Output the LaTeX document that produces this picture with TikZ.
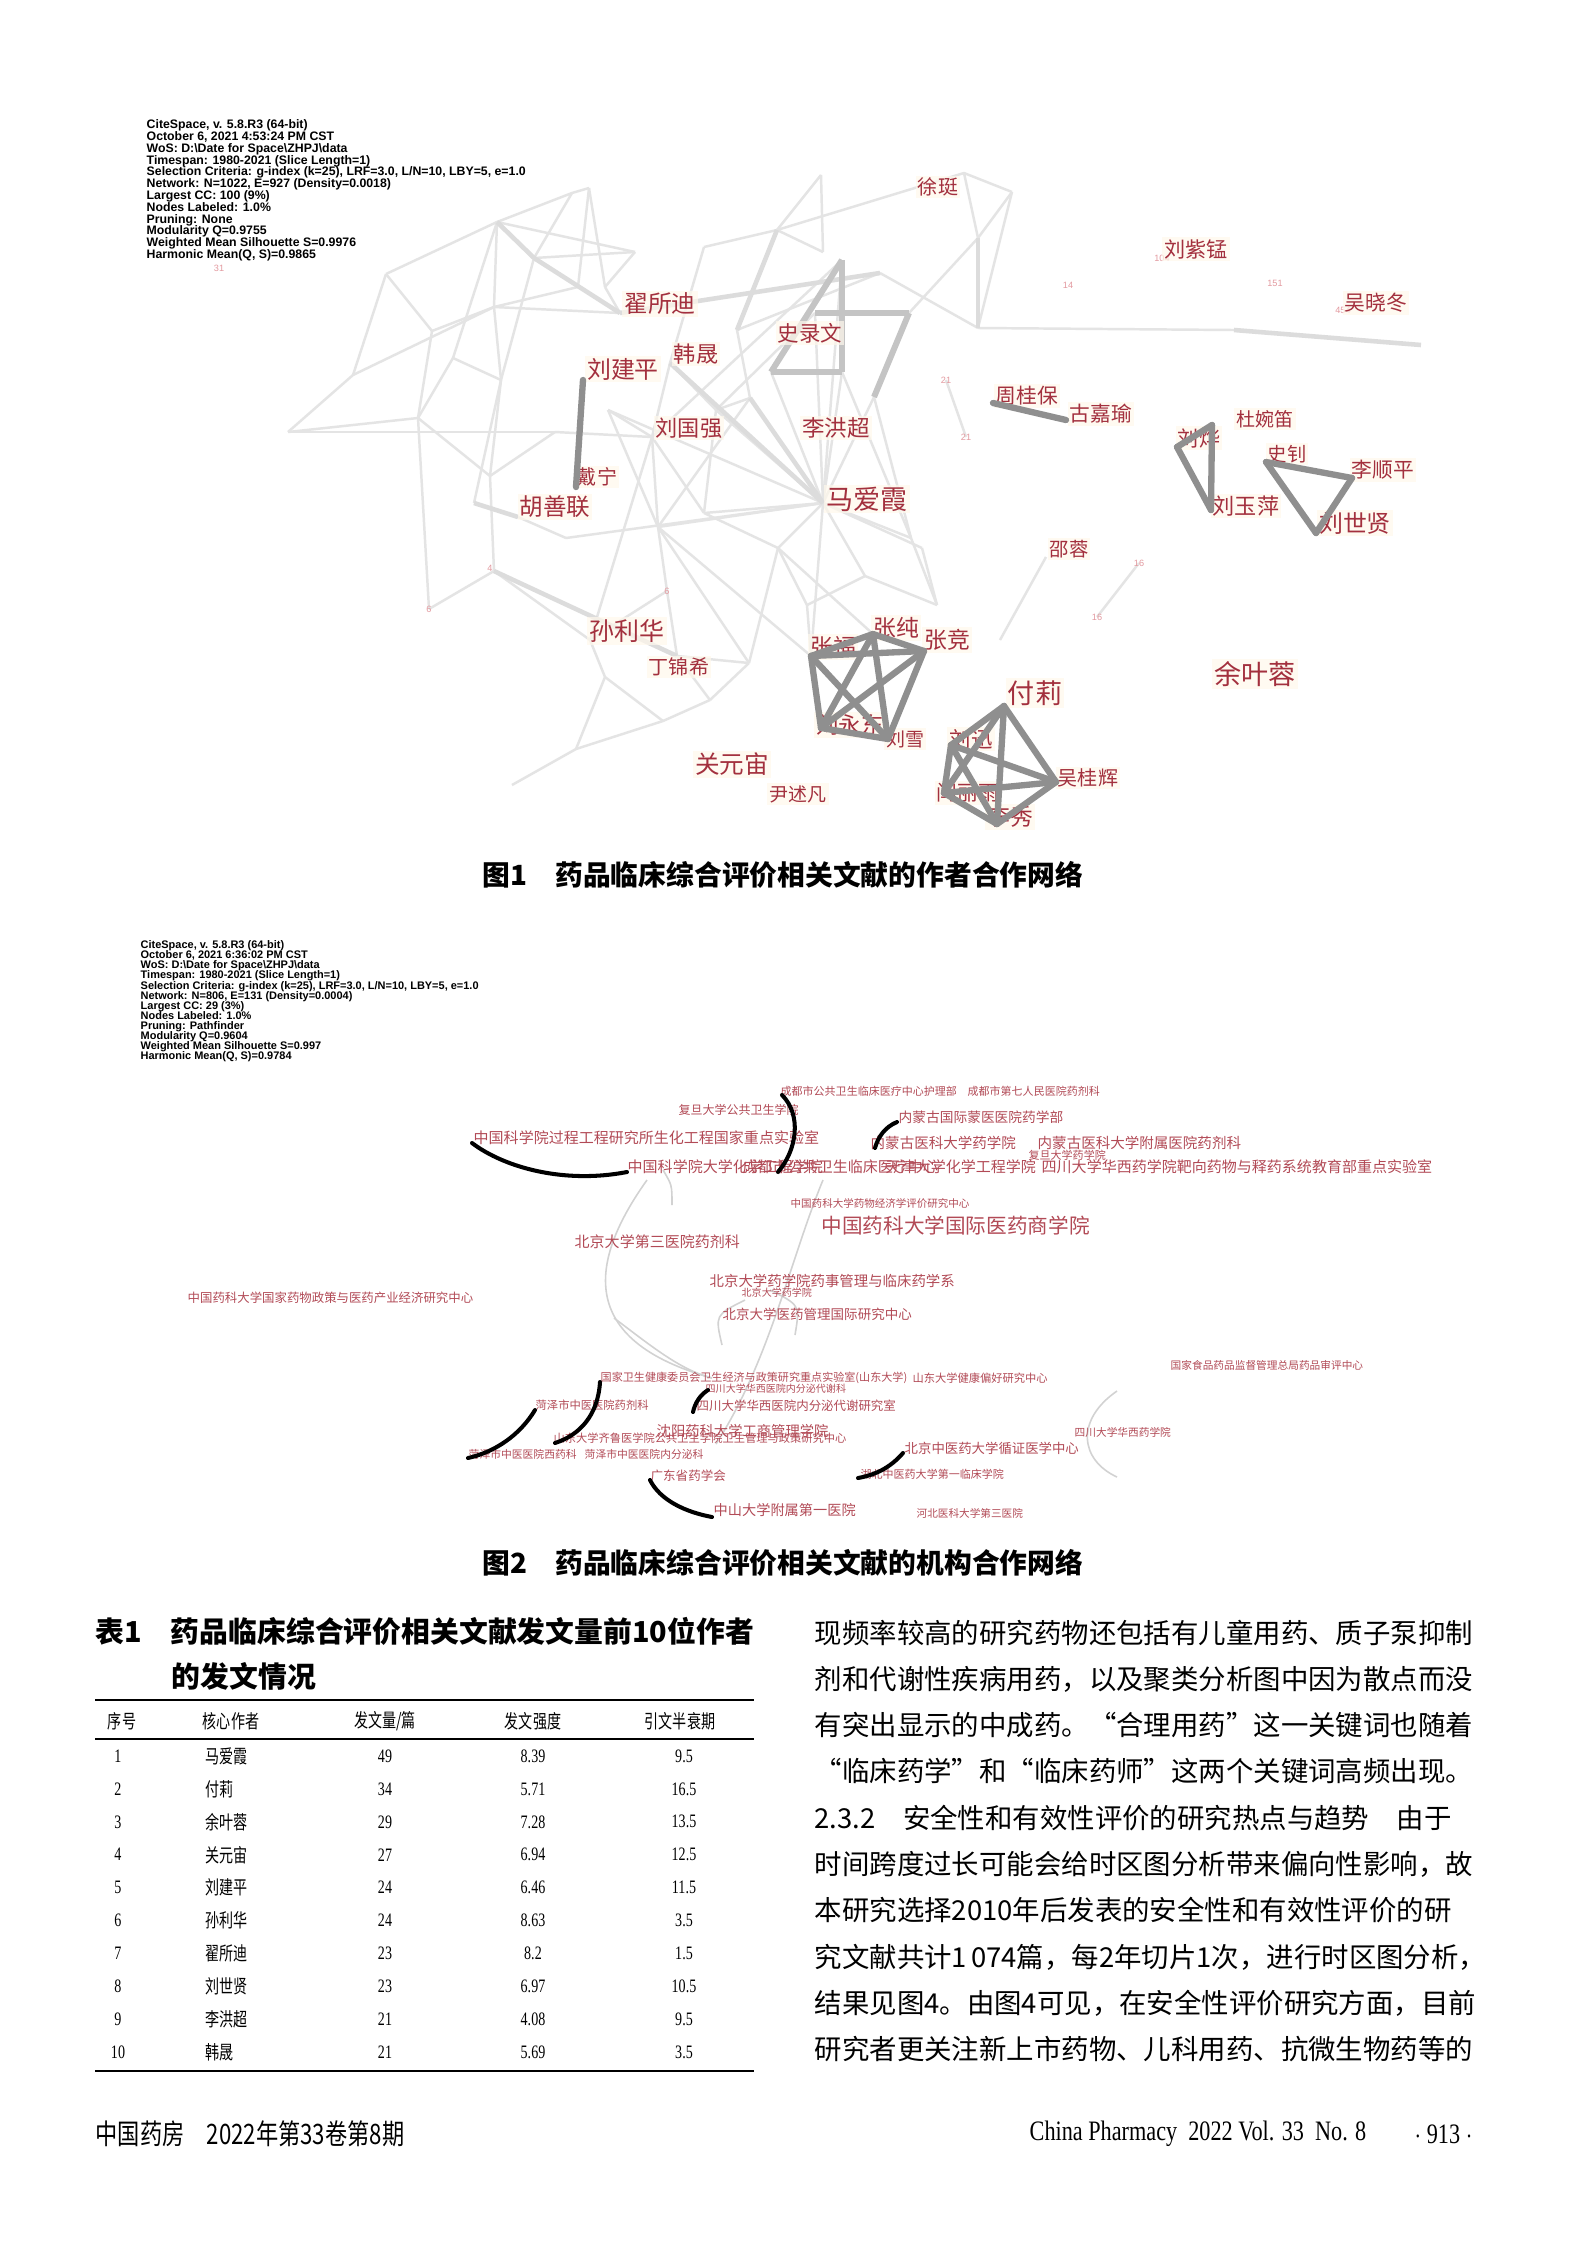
\documentclass[tikz,border=0pt]{standalone}
\usepackage{fontspec}
\usepackage{graphicx}
\setmainfont{Liberation Serif}
\newfontfamily\cjk{Noto Sans CJK SC}
\newfontfamily\csfont{Liberation Sans}
\usetikzlibrary{positioning}
\definecolor{authorred}{HTML}{A3303E}
\definecolor{instred}{HTML}{B24A56}
\definecolor{countpink}{HTML}{E39AA0}
\definecolor{labelbg}{HTML}{FFF8EC}
\definecolor{linkfaint}{HTML}{E4E4E4}
\definecolor{linkwide}{HTML}{DCDCDC}
\definecolor{linkgrey}{HTML}{C4C4C4}
\definecolor{linkdark}{HTML}{8F8F8F}
\definecolor{arcgrey}{HTML}{D2D2D2}
% stretch CJK lines to the column width
\XeTeXinterchartokenstate=1
\XeTeXinterchartoks 1 1 = {\hskip0pt plus 1pt}
\XeTeXinterchartoks 1 2 = {\hskip0pt plus 1pt}
\XeTeXinterchartoks 1 3 = {\hskip0pt plus 1pt}
\XeTeXinterchartoks 3 1 = {\hskip0pt plus 1pt}
\XeTeXinterchartoks 2 1 = {\hskip0pt plus 1pt}
\XeTeXinterchartoks 3 2 = {\hskip0pt plus 1pt}
\XeTeXinterchartoks 0 1 = {\hskip0pt plus 1pt}
\XeTeXinterchartoks 1 0 = {\hskip0pt plus 1pt}
\XeTeXinterchartoks 3 0 = {\hskip0pt plus 1pt}
\newcommand{\nrw}[1]{\scalebox{0.74}[1]{#1}}
\newcommand{\nrwf}[1]{\scalebox{0.79}[1]{#1}}
\newcommand{\tightlines}{\lineskiplimit=-5pt\relax}
\tikzset{
  faintlink/.style={draw=linkfaint, line width=0.7pt},
  widelink/.style={draw=linkwide, line width=1.3pt},
  greylink/.style={draw=linkgrey, line width=1.7pt},
  coauthor/.style={draw=linkdark, line width=1.8pt, line cap=round},
  authorlbl/.style={text=authorred, fill=labelbg, fill opacity=0.7, text opacity=1, inner sep=0.6pt},
  countlbl/.style={text=countpink, inner sep=0pt, font=\csfont\fontsize{2.6pt}{2.6pt}\selectfont},
  instlbl/.style={text=instred, inner sep=0pt, anchor=west},
  arclink/.style={draw=black, line width=1.15pt, line cap=round},
  softarc/.style={draw=arcgrey, line width=0.45pt},
  csinfo/.style={align=left, inner sep=0pt, anchor=north west},
  captiontxt/.style={inner sep=0pt, font=\cjk\bfseries\fontsize{7.9pt}{7.9pt}\selectfont},
  tabtitle/.style={inner sep=0pt, anchor=west, font=\cjk\bfseries\fontsize{8.2pt}{8.2pt}\selectfont},
  tabcell/.style={inner sep=0pt, font=\fontsize{5.4pt}{5.4pt}\selectfont},
  bodyline/.style={inner sep=0pt, anchor=west, font=\cjk\fontsize{7.8pt}{7.8pt}\selectfont},
  footer/.style={inner sep=0pt, font=\fontsize{8pt}{8pt}\selectfont}
}

\begin{document}
\begin{tikzpicture}[x=0.01cm, y=-0.01cm]
    % Page
    \fill[white] (0,0) rectangle (1575,2260);
    \useasboundingbox (0,0) rectangle (1575,2260);

    % ---------------- Figure 1: author network ----------------
    \node[csinfo, font=\csfont\bfseries\fontsize{3.5pt}{3.36pt}\selectfont\tightlines] (info1) at (146,119) {%
        CiteSpace, v. 5.8.R3 (64-bit)\\
        October 6, 2021 4:53:24 PM CST\\
        WoS: D:\textbackslash Date for Space\textbackslash ZHPJ\textbackslash data\\
        Timespan: 1980-2021 (Slice Length=1)\\
        Selection Criteria: g-index (k=25), LRF=3.0, L/N=10, LBY=5, e=1.0\\
        Network: N=1022, E=927 (Density=0.0018)\\
        Largest CC: 100 (9\%)\\
        Nodes Labeled: 1.0\%\\
        Pruning: None\\
        Modularity Q=0.9755\\
        Weighted Mean Silhouette S=0.9976\\
        Harmonic Mean(Q, S)=0.9865};

    % network points
    \foreach \n/\px/\py in {z1/572/193, z2/589/188, z3/497/222, z4/534/258, z5/635/252,
        z6/605/287, z7/578/287, z8/494/307, z9/620/313, z10/737/330, z11/880/273,
        z12/842/260, z13/815/313, z14/909/313, z15/771/372, z16/842/372, z17/874/397,
        z18/670/363, z19/652/437, z20/823/503, z21/750/398, z22/777/230, z23/821/175,
        z24/823/252, z25/964/173, z26/1012/192, z27/978/238, z28/978/328, z29/704/247,
        z30/501/380, z31/453/358, z32/518/517, z33/474/503, z34/658/527, z35/566/538,
        z36/911/538, z37/704/513, z38/716/410, z39/608/410, z40/288/432, z41/353/375,
        z42/386/274, z43/432/331, z44/418/418, z45/490/476, z46/555/432, z47/494/571,
        z48/677/656, z49/605/677, z50/663/721, z51/576/749, z52/512/785, z53/778/548,
        z54/807/605, z55/749/663, z56/865/576, z57/922/548, z58/937/605, z59/429/609,
        z60/667/591, z61/590/640, z62/710/700, z63/1046/557, z64/1000/640, z65/1139/563,
        z66/1097/617, z67/946/380, z68/966/437, z70/1234/330, z71/1421/345}
        \coordinate (\n) at (\px,\py);

    % co-author points
    \foreach \n/\px/\py in {pLJP/583/380, pDN/576/487, pZGB/993/403, pGJY/1066/420,
        pLY/1177/447, pDWD/1212/425, pLYP/1211/510, pSZ/1266/462, pLSP/1352/478,
        pLSX/1316/533, pZF/811/656, pZC/873/634, pZJ/924/651, pLYD/821/728, pLX/888/739,
        pFL/1004/706, pLXn/951/745, pWGH/1056/782, pYLY/944/793, pLXu/997/824}
        \coordinate (\n) at (\px,\py);

    % faint links
    \foreach \u/\v in {z1/z3, z2/z7, z1/z4, z3/z8, z3/z5, z5/z6, z6/z9, z7/z8, z2/z6, z8/z9,
        z4/z5, z1/z2, z8/z30, z30/z31, z31/z3, z30/z4, z42/z43, z43/z44, z44/z40, z40/z41,
        z41/z42, z42/z3, z41/z8, z44/z45, z45/z30, z43/z8, z40/z46, z46/z19, z46/z45,
        z30/z33, z31/z44, z10/z11, z22/z23, z22/z24, z23/z24, z29/z22, z29/z18, z12/z20,
        z13/z20, z17/z20, z16/z20, z18/z19, z18/z38, z38/z20, z19/z37, z37/z20, z39/z20,
        z39/z19, z19/z34, z34/z20, z20/z36, z36/z17, z20/z35, z35/z32, z20/z57, z20/z56,
        z20/z53, z53/z54, z54/z56, z55/z53, z55/z48, z34/z55, z37/z53, z14/z27, z26/z28,
        z25/z26, z26/z27, z25/z27, z25/z22, z28/z70, z45/z47, z47/z61, z61/z49, z49/z50,
        z50/z51, z51/z52, z61/z60, z60/z48, z48/z62, z62/z50, z61/z19, z49/z51, z62/z55,
        z60/z34, z63/z64, z65/z66, z67/z68, z57/z58, z58/z36, z56/z58, z11/z28, z59/z47,
        z59/z44, z10/z21, z21/z38, z20/pZF, z34/pZF, z54/pZF, z53/pZC, z39/z34, z38/z37,
        z15/z20, z21/z34, z16/z36, z12/z19, z13/z38}
        \draw[faintlink] (\u) -- (\v);

    % wider faint links
    \foreach \u/\v in {z3/z4, z4/z9, z9/z11, z18/z20, z21/z20, z47/z48, z33/z32, z70/z71,
        z27/z28, z10/z22}
        \draw[widelink] (\u) -- (\v);

    % grey links
    \foreach \u/\v in {z12/z15, z13/z14, z15/z16, z14/z17, z12/z16}
        \draw[greylink] (\u) -- (\v);

    % small cluster counts
    \foreach \cv/\px/\py [count=\i] in {31/219/268, 104/1162/258, 14/1068/285, 151/1275/283,
        454/1343/310, 21/946/380, 21/966/437, 16/1139/563, 16/1097/617, 6/429/609,
        6/667/591, 4/490/568}
        \node[countlbl] (cnt\i) at (\px,\py) {\cv};

    % author labels
    \foreach \nm/\px/\py/\sz [count=\i] in {徐珽/938/187/5.7, 刘紫锰/1196/249/6.0,
        吴晓冬/1376/303/5.9, 翟所迪/660/304/6.8, 史录文/810/333/6.1, 韩晟/696/354/6.3,
        刘建平/623/369/6.8, 周桂保/1027/396/5.9, 古嘉瑜/1101/414/5.9, 杜婉笛/1265/419/5.4,
        刘国强/689/428/6.3, 李洪超/836/428/6.4, 刘烨/1199/438/6.0, 史钊/1287/454/5.5,
        李顺平/1383/470/5.9, 戴宁/597/477/5.7, 马爱霞/867/499/7.7, 胡善联/555/507/6.7,
        刘玉萍/1246/506/6.3, 刘世贤/1355/523/6.8, 邵蓉/1069/549/5.5, 孙利华/627/631/7.1,
        张福/833/647/6.5, 张纯/896/628/6.5, 张竞/947/640/6.5, 丁锦希/679/667/5.7,
        余叶蓉/1255/674/7.7, 付莉/1035/693/7.7, 刘永东/850/725/6.4, 刘雪/905/739/5.4,
        刘迅/971/739/6.1, 关元宙/732/764/7.0, 吴桂辉/1088/778/5.7, 尹述凡/798/794/5.4,
        闫丽雨/968/793/5.9, 李秀/1010/817/6.5}
        \node[authorlbl, font=\cjk\fontsize{\sz pt}{\sz pt}\selectfont] (au\i) at (\px,\py) {\nm};

    % strong co-author links
    \foreach \u/\v in {pLJP/pDN, pZGB/pGJY, pLY/pLYP, pDWD/pLYP, pLY/pDWD, pSZ/pLSP,
        pLSP/pLSX, pLSX/pSZ, pZF/pZC, pZC/pZJ, pZF/pZJ, pZF/pLYD, pZF/pLX, pZC/pLYD,
        pZJ/pLYD, pZJ/pLX, pLYD/pLX, pZC/pLX, pFL/pLXn, pFL/pWGH, pFL/pYLY, pFL/pLXu,
        pLXn/pYLY, pLXn/pLXu, pLXn/pWGH, pWGH/pLXu, pYLY/pLXu, pWGH/pYLY}
        \draw[coauthor] (\u) -- (\v);

    \node[captiontxt] (cap1) at (783,875) {图1\quad 药品临床综合评价相关文献的作者合作网络};

    % ---------------- Figure 2: institution network ----------------
    \node[csinfo, font=\csfont\bfseries\fontsize{3.12pt}{2.87pt}\selectfont\tightlines] (info2) at (140,940) {%
        CiteSpace, v. 5.8.R3 (64-bit)\\
        October 6, 2021 6:36:02 PM CST\\
        WoS: D:\textbackslash Date for Space\textbackslash ZHPJ\textbackslash data\\
        Timespan: 1980-2021 (Slice Length=1)\\
        Selection Criteria: g-index (k=25), LRF=3.0, L/N=10, LBY=5, e=1.0\\
        Network: N=806, E=131 (Density=0.0004)\\
        Largest CC: 29 (3\%)\\
        Nodes Labeled: 1.0\%\\
        Pruning: Pathfinder\\
        Modularity Q=0.9604\\
        Weighted Mean Silhouette S=0.997\\
        Harmonic Mean(Q, S)=0.9784};

    % light arcs
    \coordinate (g1s) at (647,1180); \coordinate (g1e) at (712,1378);
    \coordinate (g2s) at (823,1180); \coordinate (g2e) at (716,1444);
    \coordinate (g3s) at (614,1318); \coordinate (g4s) at (663,1170);
    \coordinate (g4e) at (672,1205); \coordinate (g5s) at (1117,1391);
    \coordinate (g5e) at (1117,1477); \coordinate (g6s) at (745,1300);
    \coordinate (g6e) at (722,1345); \coordinate (g7s) at (770,1290);
    \coordinate (g7e) at (795,1335);
    \draw[softarc] (g1s) .. controls (590,1260) and (575,1340) .. (g1e);
    \draw[softarc] (g2s) .. controls (790,1260) and (770,1360) .. (g2e);
    \draw[softarc] (g3s) .. controls (650,1345) and (680,1370) .. (g1e);
    \draw[softarc] (g4s) .. controls (672,1185) .. (g4e);
    \draw[softarc] (g5s) .. controls (1075,1420) and (1080,1460) .. (g5e);
    \draw[softarc] (g6s) .. controls (715,1315) .. (g6e);
    \draw[softarc] (g7s) .. controls (800,1305) .. (g7e);

    % institution labels
    \foreach \nm/\px/\py/\sz [count=\i] in {成都市公共卫生临床医疗中心护理部/780/1091/3.13,
        成都市第七人民医院药剂科/967/1091/3.13, 复旦大学公共卫生学院/678/1110/3.41,
        内蒙古国际蒙医医院药学部/898/1117/3.9,
        中国科学院过程工程研究所生化工程国家重点实验室/473/1138/4.27,
        内蒙古医科大学药学院/870/1143/4.13, 内蒙古医科大学附属医院药剂科/1037/1143/4.13,
        复旦大学药学院/1028/1155/3.13, 中国科学院大学化学工程学院/627/1167/4.27,
        成都市公共卫生临床医疗中心/742/1167/4.27, 天津大学化学工程学院/885/1167/4.27,
        四川大学华西药学院靶向药物与释药系统教育部重点实验室/1041/1167/4.27,
        中国药科大学药物经济学评价研究中心/790/1203/2.99,
        中国药科大学国际医药商学院/821/1226/5.86, 北京大学第三医院药剂科/574/1242/4.27,
        中国药科大学国家药物政策与医药产业经济研究中心/187/1298/3.53,
        北京大学药学院药事管理与临床药学系/709/1281/4.1, 北京大学药学院/741/1293/2.85,
        北京大学医药管理国际研究中心/722/1314/3.84,
        国家食品药品监督管理总局药品审评中心/1170/1365/3.04,
        国家卫生健康委员会卫生经济与政策研究重点实验室(山东大学)/600/1378/3.15,
        山东大学健康偏好研究中心/912/1378/3.2, 四川大学华西医院内分泌代谢科/705/1389/2.85,
        菏泽市中医医院药剂科/535/1405/3.21, 四川大学华西医院内分泌代谢研究室/696/1406/3.54,
        沈阳药科大学工商管理学院/656/1431/4.07,
        山东大学齐鲁医学院公共卫生学院卫生管理与政策研究中心/553/1438/3.2,
        四川大学华西药学院/1074/1432/3.04, 菏泽市中医医院西药科/468/1454/3.07,
        菏泽市中医医院内分泌科/584/1454/3.07, 北京中医药大学循证医学中心/904/1448/3.81,
        湖北中医药大学第一临床学院/860/1474/3.13, 广东省药学会/650/1476/3.56,
        中山大学附属第一医院/713/1510/4.04, 河北医科大学第三医院/916/1513/3.02}
        \node[instlbl, font=\cjk\fontsize{\sz pt}{\sz pt}\selectfont] (in\i) at (\px,\py) {\nm};

    % collaboration arcs
    \coordinate (a1s) at (472,1143); \coordinate (a1e) at (627,1172);
    \coordinate (a2s) at (782,1095); \coordinate (a2e) at (778,1172);
    \coordinate (a3s) at (897,1122); \coordinate (a3e) at (875,1148);
    \coordinate (a4s) at (535,1410); \coordinate (a4e) at (468,1458);
    \coordinate (a5s) at (600,1382); \coordinate (a5e) at (555,1443);
    \coordinate (a6s) at (708,1390); \coordinate (a6e) at (693,1412);
    \coordinate (a7s) at (650,1480); \coordinate (a7e) at (712,1517);
    \coordinate (a8s) at (903,1453); \coordinate (a8e) at (858,1478);
    \draw[arclink] (a1s) .. controls (505,1168) and (565,1184) .. (a1e);
    \draw[arclink] (a2s) .. controls (802,1115) and (797,1150) .. (a2e);
    \draw[arclink] (a3s) .. controls (885,1127) and (878,1137) .. (a3e);
    \draw[arclink] (a4s) .. controls (520,1435) and (495,1452) .. (a4e);
    \draw[arclink] (a5s) .. controls (598,1415) and (580,1435) .. (a5e);
    \draw[arclink] (a6s) .. controls (700,1395) and (695,1403) .. (a6e);
    \draw[arclink] (a7s) .. controls (660,1500) and (685,1512) .. (a7e);
    \draw[arclink] (a8s) .. controls (890,1468) and (875,1475) .. (a8e);

    \node[captiontxt] (cap2) at (783,1563) {图2\quad 药品临床综合评价相关文献的机构合作网络};

    % ---------------- Table 1 ----------------
    \node[tabtitle] (tabt1) at (95,1631) {表1\quad 药品临床综合评价相关文献发文量前10位作者};
    \node[tabtitle] (tabt2) at (171,1676) {的发文情况};
    \draw[line width=0.8pt] (95,1700) -- (754,1700);
    \draw[line width=0.45pt] (95,1739) -- (754,1739);
    \draw[line width=0.8pt] (95,2071) -- (754,2071);
    \node[tabcell] (th1) at (122,1721) {\nrw{\cjk 序号}};
    \node[tabcell] (th2) at (231,1721) {\nrw{\cjk 核心作者}};
    \node[tabcell] (th3) at (385,1721) {\nrw{\cjk 发文量/篇}};
    \node[tabcell] (th4) at (533,1721) {\nrw{\cjk 发文强度}};
    \node[tabcell] (th5) at (680,1721) {\nrw{\cjk 引文半衰期}};
    \foreach \au/\np/\st/\hl [count=\rw] in {马爱霞/49/8.39/9.5, 付莉/34/5.71/16.5,
        余叶蓉/29/7.28/13.5, 关元宙/27/6.94/12.5, 刘建平/24/6.46/11.5, 孙利华/24/8.63/3.5,
        翟所迪/23/8.2/1.5, 刘世贤/23/6.97/10.5, 李洪超/21/4.08/9.5, 韩晟/21/5.69/3.5}
    {
        \pgfmathsetmacro\ry{1756+32.9*(\rw-1)}
        \node[tabcell] (tno\rw) at (118,\ry) {\nrw{\rw}};
        \node[tabcell, anchor=west] (tau\rw) at (205,\ry) {\nrw{\cjk\au}};
        \node[tabcell] (tnp\rw) at (385,\ry) {\nrw{\np}};
        \node[tabcell] (tst\rw) at (533,\ry) {\nrw{\st}};
        \node[tabcell] (thl\rw) at (684,\ry) {\nrw{\hl}};
    }

    % ---------------- Right column text ----------------
    \node[bodyline] (txt1) at (814,1633) {\makebox[6.59cm][s]{现频率较高的研究药物还包括有儿童用药、质子泵抑制}};
    \node[bodyline] (txt2) at (814,1679) {\makebox[6.59cm][s]{剂和代谢性疾病用药，以及聚类分析图中因为散点而没}};
    \node[bodyline] (txt3) at (814,1725) {\makebox[6.59cm][s]{有突出显示的中成药。“合理用药”这一关键词也随着}};
    \node[bodyline] (txt4) at (814,1771) {“临床药学”和“临床药师”这两个关键词高频出现。};
    \node[bodyline] (txt5) at (814,1818) {\makebox[6.59cm][s]{2.3.2\quad 安全性和有效性评价的研究热点与趋势\quad 由于}};
    \node[bodyline] (txt6) at (814,1864) {\makebox[6.59cm][s]{时间跨度过长可能会给时区图分析带来偏向性影响，故}};
    \node[bodyline] (txt7) at (814,1910) {\makebox[6.59cm][s]{本研究选择2010年后发表的安全性和有效性评价的研}};
    \node[bodyline] (txt8) at (814,1957) {\makebox[6.59cm][s]{究文献共计1 074篇，每2年切片1次，进行时区图分析，}};
    \node[bodyline] (txt9) at (814,2003) {\makebox[6.59cm][s]{结果见图4。由图4可见，在安全性评价研究方面，目前}};
    \node[bodyline] (txt10) at (814,2049) {\makebox[6.59cm][s]{研究者更关注新上市药物、儿科用药、抗微生物药等的}};

    % ---------------- Footer ----------------
    \node[footer, anchor=west] (foot1) at (95,2134) {\nrwf{\cjk 中国药房\quad 2022年第33卷第8期}};
    \node[footer, anchor=west] (foot2) at (1029,2134) {\nrwf{China Pharmacy\ \ 2022 Vol. 33\ \ No. 8}};
    \node[footer, anchor=east] (foot3) at (1473,2134) {\nrwf{$\cdot$ 913 $\cdot$}};
\end{tikzpicture}
\end{document}
